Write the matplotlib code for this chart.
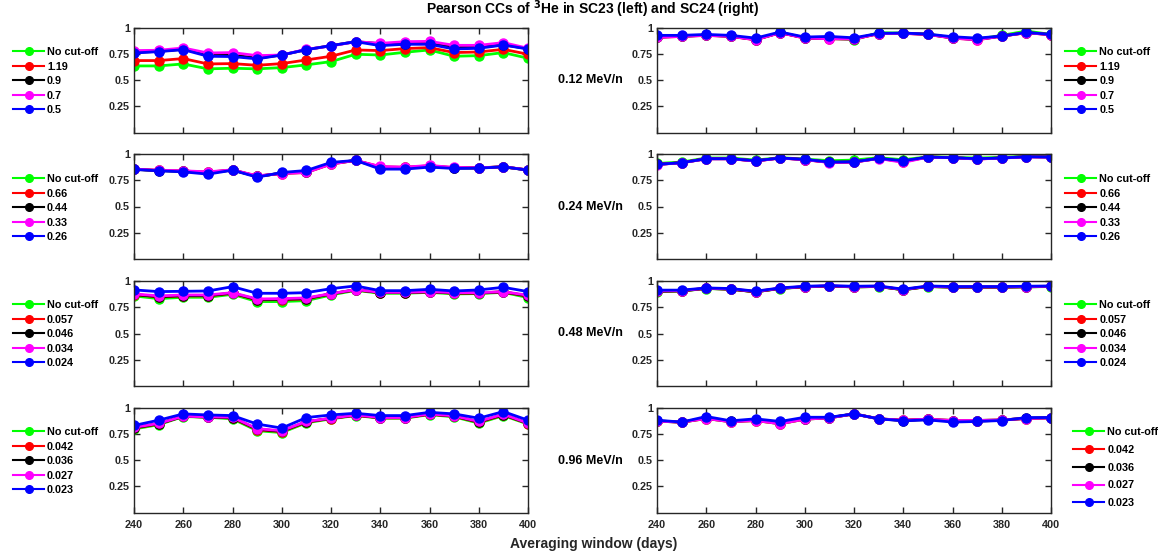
import matplotlib
matplotlib.use("Agg")
import matplotlib.pyplot as plt
import numpy as np

plt.rcParams['font.family'] = ['Liberation Sans', 'DejaVu Sans']
plt.rcParams['font.weight'] = 'bold'

days = [240, 250, 260, 270, 280, 290, 300, 310, 320, 330, 340, 350, 360, 370, 380, 390, 400]
energies = ["0.12 MeV/n", "0.24 MeV/n", "0.48 MeV/n", "0.96 MeV/n"]
cutoff_labels = [
    ["No cut-off", "1.19", "0.9", "0.7", "0.5"],
    ["No cut-off", "0.66", "0.44", "0.33", "0.26"],
    ["No cut-off", "0.057", "0.046", "0.034", "0.024"],
    ["No cut-off", "0.042", "0.036", "0.027", "0.023"],
]
series_colors = ["#00ff00", "#ff0000", "#000000", "#ff00ff", "#0000ff"]

# ---- SC23 (left) ----
sc23_012_green = [0.636, 0.636, 0.655, 0.608, 0.614, 0.608, 0.620, 0.646, 0.677, 0.747, 0.740, 0.766, 0.788, 0.728, 0.734, 0.763, 0.709]
sc23_012_red = [0.687, 0.687, 0.706, 0.655, 0.658, 0.642, 0.658, 0.693, 0.728, 0.788, 0.782, 0.801, 0.810, 0.763, 0.769, 0.794, 0.747]
sc23_012_black = [0.765, 0.775, 0.795, 0.744, 0.740, 0.710, 0.740, 0.791, 0.829, 0.867, 0.848, 0.848, 0.854, 0.813, 0.813, 0.838, 0.800]
sc23_012_magenta = [0.782, 0.785, 0.807, 0.759, 0.763, 0.734, 0.740, 0.794, 0.826, 0.867, 0.851, 0.867, 0.870, 0.832, 0.832, 0.858, 0.804]
sc23_012_blue = [0.759, 0.772, 0.791, 0.728, 0.725, 0.703, 0.740, 0.791, 0.829, 0.867, 0.829, 0.842, 0.842, 0.797, 0.804, 0.835, 0.797]

sc23_024_green = [0.856, 0.843, 0.836, 0.825, 0.847, 0.788, 0.816, 0.826, 0.906, 0.939, 0.875, 0.872, 0.886, 0.868, 0.868, 0.878, 0.848]
sc23_024_red = [0.855, 0.844, 0.838, 0.827, 0.848, 0.790, 0.814, 0.824, 0.904, 0.939, 0.878, 0.873, 0.888, 0.870, 0.868, 0.878, 0.848]
sc23_024_black = [0.854, 0.842, 0.835, 0.820, 0.847, 0.786, 0.818, 0.830, 0.910, 0.939, 0.870, 0.866, 0.882, 0.867, 0.867, 0.878, 0.847]
sc23_024_magenta = [0.856, 0.846, 0.840, 0.830, 0.849, 0.792, 0.814, 0.824, 0.904, 0.939, 0.881, 0.875, 0.891, 0.872, 0.869, 0.878, 0.849]
sc23_024_blue = [0.853, 0.840, 0.830, 0.808, 0.846, 0.779, 0.824, 0.843, 0.920, 0.939, 0.856, 0.856, 0.875, 0.862, 0.865, 0.878, 0.846]

sc23_048_green = [0.858, 0.832, 0.845, 0.845, 0.873, 0.804, 0.804, 0.813, 0.867, 0.911, 0.883, 0.883, 0.892, 0.877, 0.880, 0.892, 0.842]
sc23_048_red = [0.870, 0.848, 0.858, 0.858, 0.883, 0.820, 0.823, 0.829, 0.877, 0.915, 0.889, 0.889, 0.896, 0.884, 0.884, 0.896, 0.854]
sc23_048_black = [0.872, 0.851, 0.861, 0.861, 0.885, 0.823, 0.826, 0.833, 0.878, 0.916, 0.890, 0.890, 0.897, 0.886, 0.886, 0.897, 0.858]
sc23_048_magenta = [0.877, 0.858, 0.867, 0.867, 0.889, 0.829, 0.832, 0.839, 0.880, 0.918, 0.892, 0.892, 0.899, 0.889, 0.889, 0.899, 0.864]
sc23_048_blue = [0.915, 0.899, 0.902, 0.905, 0.946, 0.883, 0.883, 0.889, 0.927, 0.953, 0.908, 0.908, 0.921, 0.905, 0.915, 0.940, 0.899]

sc23_096_green = [0.797, 0.838, 0.916, 0.909, 0.894, 0.781, 0.763, 0.856, 0.894, 0.925, 0.900, 0.900, 0.934, 0.913, 0.853, 0.925, 0.844]
sc23_096_red = [0.805, 0.845, 0.918, 0.911, 0.902, 0.791, 0.772, 0.863, 0.897, 0.928, 0.903, 0.903, 0.938, 0.918, 0.861, 0.931, 0.849]
sc23_096_black = [0.808, 0.847, 0.918, 0.911, 0.905, 0.795, 0.776, 0.866, 0.899, 0.930, 0.905, 0.905, 0.940, 0.920, 0.865, 0.934, 0.851]
sc23_096_magenta = [0.813, 0.850, 0.919, 0.913, 0.909, 0.800, 0.781, 0.869, 0.900, 0.931, 0.906, 0.906, 0.941, 0.922, 0.869, 0.938, 0.853]
sc23_096_blue = [0.831, 0.881, 0.941, 0.931, 0.925, 0.844, 0.806, 0.906, 0.931, 0.947, 0.925, 0.925, 0.956, 0.941, 0.900, 0.963, 0.881]

# ---- SC24 (right) ----
sc24_012_green = [0.914, 0.920, 0.927, 0.920, 0.888, 0.955, 0.904, 0.898, 0.885, 0.952, 0.949, 0.939, 0.904, 0.891, 0.927, 0.968, 0.936]
sc24_012_red = [0.908, 0.917, 0.927, 0.917, 0.885, 0.952, 0.901, 0.895, 0.892, 0.943, 0.946, 0.936, 0.901, 0.885, 0.920, 0.952, 0.933]
sc24_012_black = [0.910, 0.919, 0.929, 0.919, 0.887, 0.953, 0.903, 0.898, 0.895, 0.944, 0.947, 0.937, 0.903, 0.888, 0.920, 0.953, 0.934]
sc24_012_magenta = [0.908, 0.917, 0.927, 0.917, 0.885, 0.952, 0.901, 0.895, 0.892, 0.943, 0.946, 0.936, 0.901, 0.885, 0.920, 0.952, 0.933]
sc24_012_blue = [0.927, 0.927, 0.936, 0.927, 0.901, 0.959, 0.911, 0.917, 0.904, 0.946, 0.949, 0.939, 0.914, 0.901, 0.920, 0.955, 0.936]

sc24_024_green = [0.910, 0.923, 0.962, 0.962, 0.942, 0.965, 0.952, 0.936, 0.942, 0.965, 0.945, 0.974, 0.968, 0.962, 0.968, 0.978, 0.974]
sc24_024_red = [0.901, 0.917, 0.955, 0.955, 0.933, 0.962, 0.946, 0.920, 0.923, 0.958, 0.926, 0.971, 0.965, 0.952, 0.962, 0.974, 0.971]
sc24_024_black = [0.901, 0.917, 0.955, 0.955, 0.934, 0.962, 0.947, 0.921, 0.924, 0.958, 0.930, 0.971, 0.965, 0.953, 0.962, 0.974, 0.971]
sc24_024_magenta = [0.900, 0.916, 0.954, 0.954, 0.933, 0.961, 0.946, 0.919, 0.922, 0.957, 0.920, 0.970, 0.964, 0.952, 0.961, 0.973, 0.970]
sc24_024_blue = [0.901, 0.917, 0.955, 0.955, 0.936, 0.962, 0.949, 0.923, 0.926, 0.958, 0.936, 0.971, 0.965, 0.955, 0.962, 0.974, 0.971]

sc24_048_green = [0.900, 0.905, 0.928, 0.922, 0.897, 0.928, 0.944, 0.950, 0.944, 0.947, 0.916, 0.947, 0.941, 0.941, 0.941, 0.944, 0.947]
sc24_048_red = [0.903, 0.906, 0.930, 0.922, 0.897, 0.930, 0.945, 0.952, 0.944, 0.948, 0.917, 0.948, 0.942, 0.942, 0.942, 0.945, 0.948]
sc24_048_black = [0.903, 0.906, 0.930, 0.922, 0.897, 0.930, 0.945, 0.952, 0.944, 0.948, 0.917, 0.948, 0.942, 0.942, 0.942, 0.945, 0.948]
sc24_048_magenta = [0.906, 0.909, 0.931, 0.925, 0.900, 0.931, 0.947, 0.953, 0.947, 0.950, 0.919, 0.950, 0.944, 0.944, 0.944, 0.947, 0.950]
sc24_048_blue = [0.913, 0.913, 0.934, 0.928, 0.903, 0.934, 0.950, 0.956, 0.950, 0.953, 0.922, 0.953, 0.947, 0.947, 0.947, 0.950, 0.953]

sc24_096_green = [0.872, 0.862, 0.897, 0.866, 0.878, 0.847, 0.891, 0.903, 0.941, 0.894, 0.881, 0.891, 0.878, 0.878, 0.884, 0.897, 0.903]
sc24_096_red = [0.872, 0.862, 0.897, 0.866, 0.878, 0.847, 0.891, 0.903, 0.941, 0.894, 0.881, 0.891, 0.878, 0.878, 0.884, 0.897, 0.903]
sc24_096_black = [0.875, 0.862, 0.903, 0.869, 0.884, 0.855, 0.897, 0.906, 0.941, 0.894, 0.878, 0.888, 0.872, 0.872, 0.881, 0.900, 0.905]
sc24_096_magenta = [0.872, 0.862, 0.897, 0.866, 0.878, 0.847, 0.891, 0.903, 0.941, 0.894, 0.881, 0.891, 0.878, 0.878, 0.884, 0.897, 0.903]
sc24_096_blue = [0.881, 0.863, 0.916, 0.875, 0.894, 0.869, 0.909, 0.909, 0.941, 0.894, 0.875, 0.884, 0.863, 0.869, 0.878, 0.906, 0.906]

left_data = [
    [sc23_012_green, sc23_012_red, sc23_012_black, sc23_012_magenta, sc23_012_blue],
    [sc23_024_green, sc23_024_red, sc23_024_black, sc23_024_magenta, sc23_024_blue],
    [sc23_048_green, sc23_048_red, sc23_048_black, sc23_048_magenta, sc23_048_blue],
    [sc23_096_green, sc23_096_red, sc23_096_black, sc23_096_magenta, sc23_096_blue],
]
right_data = [
    [sc24_012_green, sc24_012_red, sc24_012_black, sc24_012_magenta, sc24_012_blue],
    [sc24_024_green, sc24_024_red, sc24_024_black, sc24_024_magenta, sc24_024_blue],
    [sc24_048_green, sc24_048_red, sc24_048_black, sc24_048_magenta, sc24_048_blue],
    [sc24_096_green, sc24_096_red, sc24_096_black, sc24_096_magenta, sc24_096_blue],
]

W, H = 1158, 554
fig = plt.figure(figsize=(W / 100, H / 100), dpi=100)

row_tops = [27.7, 154, 281, 407.7]
row_h = 105
left_x0, right_x0, ax_w = 134, 657, 394

legend_top_y = [52, 179, 305, 432]
label_y = [80, 207, 333, 461]

def style_axes(ax, show_x):
    ax.set_xlim(240, 400)
    ax.set_ylim(0, 1)
    ax.set_xticks(np.arange(240, 401, 20))
    ax.set_yticks([0.25, 0.5, 0.75, 1])
    ax.set_yticklabels(["0.25", "0.5", "0.75", "1"])
    ax.tick_params(direction='in', top=True, right=True, length=4, width=1,
                   labelsize=7.8, colors='#262626', pad=3)
    ax.tick_params(axis='x', pad=5)
    if not show_x:
        ax.set_xticklabels([])
    for s in ax.spines.values():
        s.set_linewidth(1.0)
        s.set_color('#262626')
    for lab in ax.get_xticklabels() + ax.get_yticklabels():
        lab.set_fontweight('bold')

for r in range(4):
    bottom = (H - row_tops[r] - row_h) / H
    for side, (x0, data) in enumerate([(left_x0, left_data[r]), (right_x0, right_data[r])]):
        ax = fig.add_axes([x0 / W, bottom, ax_w / W, row_h / H])
        handles = []
        for k in range(5):
            h, = ax.plot(days, data[k], '-o', color=series_colors[k], lw=2.0,
                         markersize=6.5, label=cutoff_labels[r][k])
            handles.append(h)
        style_axes(ax, r == 3)
        big = (side == 1 and r == 3)
        if side == 0:
            lx = 13
        else:
            lx = 1065 if not big else 1073
        spacing = 0.42 if not big else 0.72
        leg = ax.legend(handles=handles, loc='upper left',
                        bbox_to_anchor=(lx / W, (H - legend_top_y[r] + 5) / H),
                        bbox_transform=fig.transFigure, frameon=False,
                        prop={'size': 7.8, 'weight': 'bold'}, handlelength=2.9,
                        handletextpad=0.25, labelspacing=spacing, borderpad=0,
                        borderaxespad=0)
        for lh in leg.legend_handles:
            lh.set_linewidth(1.5)
            lh.set_markersize(5.5)
    fig.text(590 / W, 1 - label_y[r] / H, energies[r], ha='center', va='center',
             fontsize=9, fontweight='bold')

fig.text(593 / W, 1 - 9 / H, r"Pearson CCs of $^{\mathbf{3}}$He in SC23 (left) and SC24 (right)",
         ha='center', va='center', fontsize=10, fontweight='bold')
fig.text(594 / W, 1 - 544 / H, "Averaging window (days)", ha='center', va='center',
         fontsize=10, fontweight='bold', color='#262626')

fig.savefig("out.png", dpi=100)
